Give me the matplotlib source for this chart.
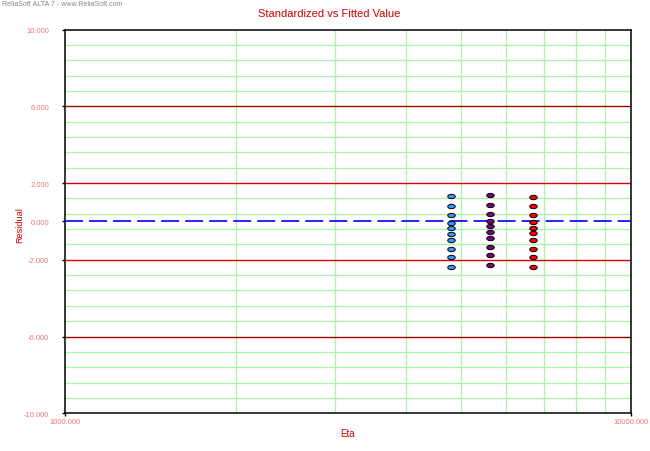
import numpy as np
import matplotlib
matplotlib.use("Agg")
import matplotlib.pyplot as plt
from matplotlib.path import Path

plt.rcParams["lines.scale_dashes"] = False

# data (Eta of each stress level, standardized residuals)
eta_levels = [4797, 5634, 6705]
level_colors = ["#3399ff", "#800080", "#ff0000"]
residuals = [
    [1.31, 0.79, 0.32, -0.07, -0.33, -0.64, -0.98, -1.45, -1.84, -2.38],
    [1.38, 0.87, 0.39, 0.04, -0.24, -0.55, -0.87, -1.33, -1.77, -2.26],
    [1.27, 0.79, 0.32, -0.03, -0.33, -0.62, -0.95, -1.45, -1.86, -2.36],
]
y_ticks = [-10, -6, -2, 0, 2, 6, 10]
x_ticks = [1000, 10000]

red = "#cc0000"
pink = "#ee7777"
green = "#a8f5a8"
plt.rcParams["font.family"] = ["Liberation Sans", "DejaVu Sans"]

fig = plt.figure(figsize=(6.5, 4.52), dpi=100)
ax = fig.add_axes([0.1005, 0.0834, 0.8707, 0.8491])

ax.set_xscale("log")
ax.set_xlim(1000, 10000)
ax.set_ylim(-10, 10)

# grid
for v in np.arange(2000, 10000, 1000):
    ax.axvline(v, color=green, lw=0.9, zorder=1)
for v in np.arange(-10, 10.01, 0.8):
    v = round(v, 2)
    if abs(v) in (2.0, 6.0, 10.0):
        continue
    ax.axhline(v, color=green, lw=0.9, zorder=1)
for v in (2, -2):
    ax.axhline(v, color="#dd0000", lw=1.0, zorder=2)
for v in (6, -6):
    ax.axhline(v, color="#a00000", lw=1.0, zorder=2)
ax.axhline(0, color="#0000ff", lw=1.2, dashes=(13, 4.3), zorder=3)

# ellipse marker
t = np.linspace(0, 2 * np.pi, 40)
oval = Path(np.column_stack([np.cos(t), 0.58 * np.sin(t)]), closed=True)
for x, ys, c in zip(eta_levels, residuals, level_colors):
    ax.plot([x] * len(ys), ys, ls="none", marker=oval, ms=5.4,
            mfc=c, mec="black", mew=0.7, zorder=5)

for s in ax.spines.values():
    s.set_color("black")
    s.set_linewidth(1.1)

ax.set_yticks(y_ticks)
ax.set_yticklabels(["%.3f" % v for v in y_ticks])
ax.set_xticks(x_ticks)
ax.set_xticklabels(["%.3f" % v for v in x_ticks])
ax.xaxis.set_minor_locator(matplotlib.ticker.NullLocator())
ax.tick_params(axis="y", length=2.5, width=1, color="black", pad=9,
               labelsize=5.5, labelcolor=pink)
ax.tick_params(axis="x", length=2.5, width=1, color="black", pad=1,
               labelsize=5.5, labelcolor=pink)

fig.text(0.506, 0.968, "Standardized vs Fitted Value", color=red,
         fontsize=8, ha="center", va="center")
fig.text(0.003, 0.989, "ReliaSoft ALTA 7 - www.ReliaSoft.com", color="#888888",
         fontsize=5.1, ha="left", va="center")
fig.text(0.031, 0.503, "Residual", color=red, fontsize=6.6, rotation=90,
         ha="center", va="center")
fig.text(0.534, 0.040, "Eta", color=red, fontsize=7, ha="center", va="center")

fig.savefig("out.png", dpi=100)
